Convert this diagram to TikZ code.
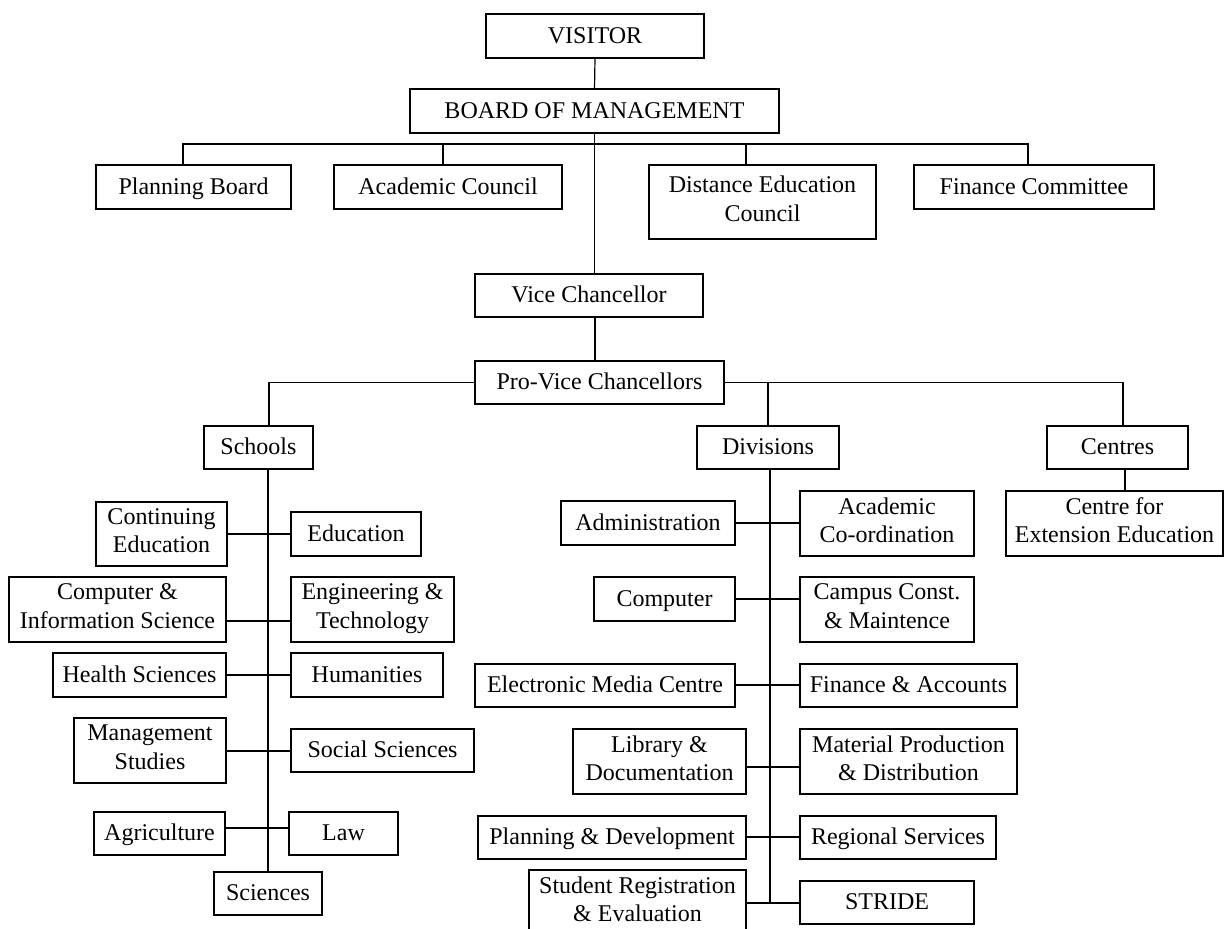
\documentclass[tikz,border=0pt]{standalone}
\usepackage{fontspec}
\setmainfont{Liberation Serif}
\usetikzlibrary{calc}
\newcommand\bx[6]{\node[box, minimum width={(#4-#2)*0.75pt}, minimum height={(#5-#3)*0.75pt}] (#1) at ({(#2+#4)/2},{(#3+#5)/2}) {#6};}
\newcommand\rowline[3]{\draw[conn] (#1.east |- 0,#3) -- (#2.west |- 0,#3);}
\newcommand\boxstrut{\vrule width0pt height16.1pt depth5.1pt\relax}
\begin{document}
\begin{tikzpicture}[x=0.75pt, y=-0.75pt,
  box/.style={draw, line width=1pt, inner sep=0pt, outer sep=0pt, align=center,
    font=\fontsize{18pt}{21.2pt}\selectfont,
    execute at begin node=\boxstrut, execute at end node=\boxstrut},
  conn/.style={line width=0.9pt}]
\fill[white] (0,0) rectangle (1224,928);
\useasboundingbox (0,0) rectangle (1224,928);

\bx{vis}{486}{14}{704}{58}{VISITOR}
\bx{bom}{410}{89}{779}{133}{BOARD OF MANAGEMENT}
\bx{pb}{96}{165}{291}{209}{Planning Board}
\bx{ac}{334}{165}{562}{209}{Academic Council}
\bx{dec}{649}{165}{876}{239}{Distance Education\\Council}
\bx{fc}{914}{165}{1154}{209}{Finance Committee}
\bx{vc}{475}{274}{703}{317}{Vice Chancellor}
\bx{pvc}{475}{361}{724}{404}{Pro-Vice Chancellors}
\bx{sch}{204}{426}{313}{469}{Schools}
\bx{div}{697}{426}{839}{469}{Divisions}
\bx{cen}{1047}{426}{1188}{469}{Centres}
\bx{cee}{1006}{491}{1223}{556}{Centre for\\Extension Education}

\bx{ce}{96}{502}{227}{566}{Continuing\\Education}
\bx{edu}{291}{512}{421}{556}{Education}
\bx{cis}{9}{577}{226}{642}{Computer \&\\Information Science}
\bx{eng}{291}{577}{454}{642}{Engineering \&\\Technology}
\bx{hs}{53}{653}{226}{697}{Health Sciences}
\bx{hum}{291}{653}{443}{697}{Humanities}
\bx{ms}{74}{718}{226}{783}{Management\\Studies}
\bx{ss}{291}{729}{474}{772}{Social Sciences}
\bx{agr}{94}{812}{225}{855}{Agriculture}
\bx{law}{289}{812}{398}{855}{Law}
\bx{sci}{214}{872}{322}{915}{Sciences}

\bx{adm}{561}{501}{735}{545}{Administration}
\bx{aco}{800}{491}{974}{556}{Academic\\Co-ordination}
\bx{comp}{594}{577}{735}{621}{Computer}
\bx{cam}{800}{577}{974}{642}{Campus Const.\\\& Maintence}
\bx{emc}{475}{664}{735}{707}{Electronic Media Centre}
\bx{fa}{800}{664}{1017}{707}{Finance \& Accounts}
\bx{lib}{573}{729}{746}{794}{Library \&\\Documentation}
\bx{mpd}{800}{729}{1017}{794}{Material Production\\\& Distribution}
\bx{pd}{478}{816}{746}{859}{Planning \& Development}
\bx{rs}{800}{816}{996}{859}{Regional Services}
\bx{srg}{529}{870}{746}{935}{Student Registration\\\& Evaluation}
\bx{str}{800}{881}{974}{924}{STRIDE}

% top levels
\draw[conn] (vis.south) -- (bom.north);
\draw[conn] (bom.south) -- (bom.south |- vc.north);
\draw[conn] (pb.north -| 183,0) |- (bom.south |- 0,144) -| (fc.north -| 1028,0);
\draw[conn] (ac.north -| 443,0) -- (443,144);
\draw[conn] (dec.north -| 746,0) -- (746,144);
\draw[conn] (vc.south -| 595,0) -- (pvc.north -| 595,0);
\draw[conn] (pvc.west) -| (sch.north -| 269,0);
\draw[conn] (pvc.east) -| (cen.north -| 1123,0);
\draw[conn] (pvc.east -| 768,0) -- (div.north -| 768,0);
\draw[conn] (cen.south -| 1125,0) -- (cee.north -| 1125,0);

% spines
\coordinate (dend) at (770,903);
\draw[conn] (sch.south -| 268,0) -- (sci.north);
\draw[conn] (div.south -| 770,0) -- (dend);

% school rows
\rowline{ce}{edu}{534}
\rowline{cis}{eng}{621}
\rowline{hs}{hum}{675}
\rowline{ms}{ss}{751}
\rowline{agr}{law}{828}

% division rows
\rowline{adm}{aco}{523}
\rowline{comp}{cam}{599}
\rowline{emc}{fa}{685}
\rowline{lib}{mpd}{767}
\rowline{pd}{rs}{837}
\rowline{srg}{str}{903}
\end{tikzpicture}
\end{document}
